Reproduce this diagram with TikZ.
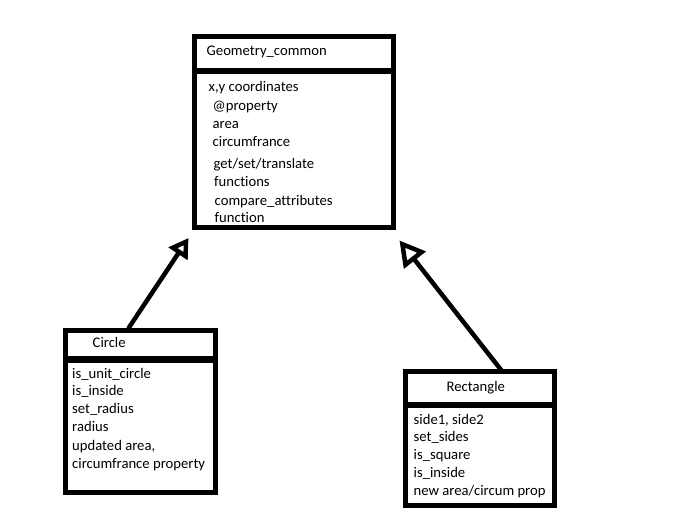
\documentclass[tikz,border=0pt]{standalone}
\usepackage{fontspec}
\setmainfont{Carlito}[Ligatures={NoCommon,NoContextual}]
\usetikzlibrary{arrows.meta}

\tikzset{
  classbox/.style={draw, line width=5pt, inner sep=0pt},
  divider/.style={line width=6pt},
  attr/.style={anchor=base west, inner sep=0pt, font=\fontsize{14.67pt}{17pt}\selectfont},
  inherit/.style={line width=4.5pt}
}

\begin{document}
\begin{tikzpicture}[x=1pt,y=-1pt]
\useasboundingbox (0,0) rectangle (699,517);

% Geometry_common
\node[classbox, minimum width=199.5pt, minimum height=191pt] (geo) at (293.75,132) {};
\draw[divider] (geo.west |- 0,71.3) -- (geo.east |- 0,71.3);
\node[attr] (geotitle) at (206.5,55.7) {Geometry\_common};
\node[attr] (geoa) at (208.5,91) {x,y coordinates};
\node[attr] (geob) at (212.5,110) {@property};
\node[attr] (geoc) at (212.5,128.3) {area};
\node[attr] (geod) at (212.5,146.7) {circumfrance};
\node[attr] (geoe) at (213.5,168.3) {get/set/translate};
\node[attr] (geof) at (214,186.2) {functions};
\node[attr] (geog) at (214.5,205) {compare\_attributes};
\node[attr] (geoh) at (214.5,222.7) {function};

% Circle
\node[classbox, minimum width=150pt, minimum height=162pt] (circ) at (140.5,411.5) {};
\draw[divider, line width=7pt] (circ.west |- 0,359.5) -- (circ.east |- 0,359.5);
\node[attr] (circtitle) at (92.5,347.3) {Circle};
\node[attr] (circa) at (72,378.3) {is\_unit\_circle};
\node[attr] (circb) at (72,395.8) {is\_inside};
\node[attr] (circc) at (72,413.5) {set\_radius};
\node[attr] (circd) at (72,431.7) {radius};
\node[attr] (circe) at (72,450) {updated area,};
\node[attr] (circf) at (72,468.3) {circumfrance property};

% Rectangle
\node[classbox, minimum width=149pt, minimum height=134pt] (rect) at (480,438.5) {};
\draw[divider] (rect.west |- 0,404.5) -- (rect.east |- 0,404.5);
\node[attr] (recttitle) at (446.5,391.7) {Rectangle};
\node[attr] (recta) at (413.5,424) {side1, side2};
\node[attr] (rectb) at (413.5,441.7) {set\_sides};
\node[attr] (rectc) at (413.5,459.4) {is\_square};
\node[attr] (rectd) at (413.5,477.3) {is\_inside};
\node[attr] (recte) at (413.5,495.7) {new area/circum prop};

% inheritance arrows
\coordinate (circtop) at (128.3,328.5);
\coordinate (geoleft) at (188.5,238);
\coordinate (recttop) at (502.7,372);
\coordinate (georight) at (399.5,240.5);
\draw[inherit, -{Triangle[open, length=19pt, width=22pt]}] (circtop) -- (geoleft);
\draw[inherit, -{Triangle[open, length=25pt, width=27pt]}] (recttop) -- (georight);

\end{tikzpicture}
\end{document}
